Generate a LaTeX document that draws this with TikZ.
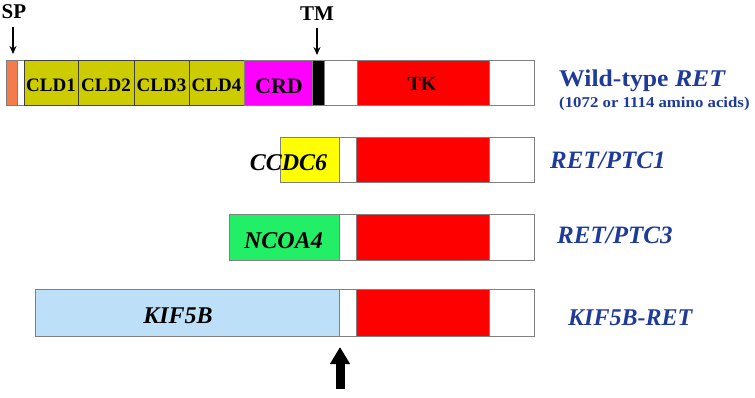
\documentclass[tikz,border=0pt]{standalone}
\usepackage{fontspec}
\usepackage{graphicx}
\setmainfont{Liberation Serif}
\usetikzlibrary{arrows.meta}
\definecolor{spor}{HTML}{F47C4C}
\definecolor{cldc}{HTML}{CCCC00}
\definecolor{crdc}{HTML}{FF00FF}
\definecolor{tkc}{HTML}{FF0000}
\definecolor{ccdcc}{HTML}{FFFF00}
\definecolor{ncoac}{HTML}{22EE66}
\definecolor{kifc}{HTML}{BEDFF8}
\definecolor{lblue}{HTML}{1E3A9A}
\definecolor{edgec}{HTML}{808080}
\begin{document}
\begin{tikzpicture}[x=1pt,y=-1pt,
  seg/.style={draw=edgec, line width=0.8pt, inner sep=0pt, outer sep=0pt,
    anchor=north west, minimum height=45pt},
  cldseg/.style={seg, fill=cldc, draw=black!75},
  intext/.style={inner sep=0pt, anchor=base, font=\fontsize{#1}{#1}\selectfont\bfseries},
  intext/.default=19,
  partner/.style={inner sep=0pt, anchor=base, font=\fontsize{24}{24}\selectfont\bfseries\itshape},
  namelab/.style={inner sep=0pt, anchor=base west, text=lblue, font=\fontsize{25}{25}\selectfont\bfseries\itshape},
  thinarrow/.style={-{Stealth[length=8pt,width=7pt]}, line width=1.3pt},
  bigarrow/.style={line width=9pt, -{Triangle[width=19pt,length=17pt]}}
]
\useasboundingbox (0,0) rectangle (755,397);

% ---------- Wild-type RET ----------
\node[seg, fill=spor, minimum width=11pt] (sp) at (6,60) {};
\node[seg, fill=white, minimum width=7pt] (spgap) at (17,60) {};
\node[cldseg, minimum width=54pt] (cld1) at (24,60) {};
\node[cldseg, minimum width=56pt] (cld2) at (78,60) {};
\node[cldseg, minimum width=55pt] (cld3) at (134,60) {};
\node[cldseg, minimum width=55pt] (cld4) at (189,60) {};
\node[seg, fill=crdc, minimum width=68pt] (crd) at (244,60) {};
\node[seg, fill=black, minimum width=12pt] (tm) at (312,60) {};
\node[seg, fill=white, minimum width=33pt] (jm1) at (324,60) {};
\node[seg, fill=tkc, minimum width=132pt] (tk1) at (357,60) {};
\node[seg, fill=white, minimum width=45pt] (ct1) at (489,60) {};

\node[intext] (tcld1) at (51,91) {CLD1};
\node[intext] (tcld2) at (106,91) {CLD2};
\node[intext] (tcld3) at (161.5,91) {CLD3};
\node[intext] (tcld4) at (216.5,91) {CLD4};
\node[intext=22] (tcrd) at (279,93) {CRD};
\node[intext=20] (ttk) at (422,90) {TK};

\node[intext=21] (splab) at (14,18) {SP};
\node[intext=21] (tmlab) at (317,20) {TM};
\coordinate (sptop) at (13,27);
\coordinate (tmtop) at (317,28);
\draw[thinarrow, shorten >=6pt] (sptop) -- (sp.north -| sptop);
\draw[thinarrow, shorten >=5pt] (tmtop) -- (tm.north -| tmtop);

\node[namelab, font=\fontsize{24}{24}\selectfont\bfseries] (wtlab) at (559,86) {\scalebox{1.07}[1]{Wild-type \textit{RET}}};
\node[inner sep=0pt, anchor=base west, text=lblue, font=\fontsize{15}{15}\selectfont\bfseries] (aalab) at (559,107) {\scalebox{1.12}[1]{(1072 or 1114 amino acids)}};

% ---------- RET/PTC1 ----------
\node[seg, fill=ccdcc, minimum width=59pt] (ccdc) at (280,137) {};
\node[seg, fill=white, minimum width=17pt] (jm2) at (339,137) {};
\node[seg, fill=tkc, minimum width=133pt] (tk2) at (356,137) {};
\node[seg, fill=white, minimum width=45pt] (ct2) at (489,137) {};
\node[partner] (tccdc) at (288.5,170) {CCDC6};
\node[namelab] (ptc1lab) at (550,168) {RET/PTC1};

% ---------- RET/PTC3 ----------
\node[seg, fill=ncoac, minimum width=110pt, minimum height=46pt] (ncoa) at (229,214) {};
\node[seg, fill=white, minimum width=17pt, minimum height=46pt] (jm3) at (339,214) {};
\node[seg, fill=tkc, minimum width=133pt, minimum height=46pt] (tk3) at (356,214) {};
\node[seg, fill=white, minimum width=45pt, minimum height=46pt] (ct3) at (489,214) {};
\node[partner] (tncoa) at (283.5,248) {NCOA4};
\node[namelab] (ptc3lab) at (557,243) {RET/PTC3};

% ---------- KIF5B-RET ----------
\node[seg, fill=kifc, minimum width=304pt, minimum height=47pt] (kif) at (35,289) {};
\node[seg, fill=white, minimum width=17pt, minimum height=47pt] (jm4) at (339,289) {};
\node[seg, fill=tkc, minimum width=133pt, minimum height=47pt] (tk4) at (356,289) {};
\node[seg, fill=white, minimum width=45pt, minimum height=47pt] (ct4) at (489,289) {};
\node[partner] (tkif) at (178,323) {KIF5B};
\node[namelab, font=\fontsize{24}{24}\selectfont\bfseries\itshape] (kiflab) at (568,325) {KIF5B-RET};

\coordinate (bigbase) at (340,389);
\draw[bigarrow, shorten >=11pt] (bigbase) -- (kif.south east -| bigbase);
\end{tikzpicture}
\end{document}
